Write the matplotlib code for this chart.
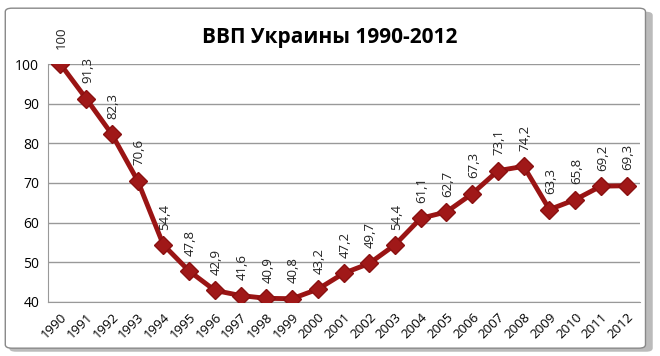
import matplotlib.pyplot as plt
from matplotlib.patches import FancyBboxPatch

plt.rcParams['font.family'] = ['Open Sans', 'DejaVu Sans']

# données : PIB de l'Ukraine (1990 = 100)
annees = [str(a) for a in range(1990, 2013)]
valeurs = [100, 91.3, 82.3, 70.6, 54.4, 47.8, 42.9, 41.6, 40.9, 40.8, 43.2,
           47.2, 49.7, 54.4, 61.1, 62.7, 67.3, 73.1, 74.2, 63.3, 65.8, 69.2, 69.3]
titre = "ВВП Украины 1990-2012"

fig = plt.figure(figsize=(6.6, 3.56), dpi=100)

# cadre arrondi avec ombre (sous les axes)
ombre = FancyBboxPatch((0.014, 0.012), 0.975, 0.955, boxstyle="round,pad=0,rounding_size=0.01",
                       transform=fig.transFigure, facecolor='#bbbbbb', edgecolor='none', zorder=-2)
cadre = FancyBboxPatch((0.008, 0.022), 0.97, 0.955, boxstyle="round,pad=0,rounding_size=0.01",
                       transform=fig.transFigure, facecolor='white', edgecolor='#888888', lw=1, zorder=-1)
fig.patches.extend([ombre, cadre])

ax = fig.add_axes([0.072, 0.152, 0.897, 0.668])
ax.set_facecolor('none')
x = list(range(len(annees)))
ax.plot(x, valeurs, color='#9a1414', lw=3.5, marker='D', markersize=9,
        markerfacecolor='#a01818', markeredgecolor='#8a1010', zorder=3)

for xi, v in zip(x, valeurs):
    txt = f"{v:g}".replace('.', ',')
    ax.annotate(txt, (xi, v), xytext=(1, 11), textcoords='offset points',
                rotation=90, ha='center', va='bottom', fontsize=9.5, color='#222222')

ax.set_xlim(-0.5, len(annees) - 0.5)
ax.set_ylim(40, 100)
ax.set_yticks(range(40, 101, 10))
ax.set_xticks(x)
ax.set_xticklabels(annees, rotation=45, ha='right', rotation_mode='anchor', fontsize=9.5)
ax.tick_params(axis='y', labelsize=10, length=0, pad=6)
ax.tick_params(axis='x', length=0, pad=6)
ax.grid(axis='y', color='#999999', lw=1)
ax.set_axisbelow(True)
for s in ['top', 'right']:
    ax.spines[s].set_visible(False)
ax.spines['left'].set_color('#999999')
ax.spines['bottom'].set_color('#999999')

fig.text(0.5, 0.895, titre, ha='center', va='center', fontsize=15, fontweight='bold')

plt.savefig('out.png', dpi=100)
